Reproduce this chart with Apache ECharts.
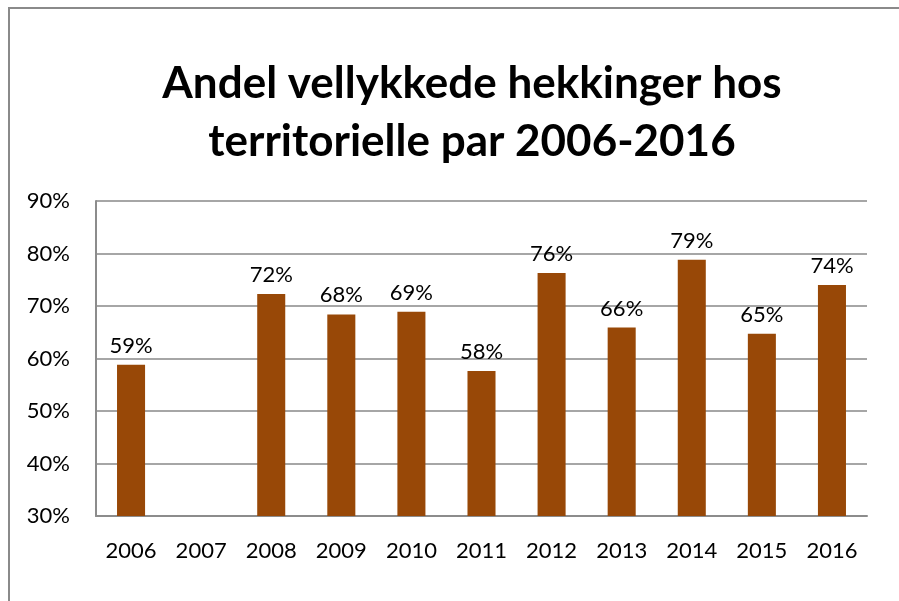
<!DOCTYPE html>
<html>
<head>
<meta charset="utf-8">
<script src="https://cdn.jsdelivr.net/npm/echarts@6/dist/echarts.min.js"></script>
<style>
  html, body { margin: 0; padding: 0; background: #fff; }
  #chart { width: 899px; height: 601px; }
</style>
</head>
<body>
<div id="chart"></div>
<script>
// år og andel vellykkede hekkinger (%)
const years = ['2006', '2007', '2008', '2009', '2010', '2011', '2012', '2013', '2014', '2015', '2016']
const values = [58.8, 29.7, 72.3, 68.4, 68.9, 57.6, 76.3, 65.9, 78.8, 64.7, 74.0]
const yTicks = [30, 40, 50, 60, 70, 80, 90]

const chart = echarts.init(document.getElementById('chart'))
const font = 'Lato, "Open Sans", sans-serif'

const option = {
  animation: false,
  textStyle: { fontFamily: font },
  title: {
    text: 'Andel vellykkede hekkinger hos\nterritorielle par 2006-2016',
    left: 467,
    top: 50,
    textAlign: 'center',
    textStyle: {
      fontFamily: font,
      fontWeight: 'bold',
      fontSize: 44,
      lineHeight: 58,
      color: '#000'
    }
  },
  // ytre ramme rundt diagrammet
  graphic: [{
    type: 'rect',
    shape: { x: 9, y: 8, width: 1000, height: 800 },
    style: { fill: null, stroke: '#8a8a8a', lineWidth: 2 },
    silent: true
  }],
  grid: {
    left: 96,
    right: 32,
    top: 201,
    bottom: 85,
    containLabel: false
  },
  xAxis: {
    type: 'category',
    data: years,
    axisTick: { show: false },
    axisLine: { lineStyle: { color: '#8c8c8c', width: 2 } },
    axisLabel: { color: '#000', fontSize: 22, margin: 24, fontFamily: font }
  },
  yAxis: {
    type: 'value',
    min: yTicks[0],
    max: yTicks[yTicks.length - 1],
    interval: 10,
    axisLine: { show: true, lineStyle: { color: '#8c8c8c', width: 2 } },
    axisTick: { show: false },
    splitLine: { lineStyle: { color: '#a6a6a6', width: 2 } },
    axisLabel: {
      color: '#000',
      fontSize: 22,
      margin: 26,
      fontFamily: font,
      formatter: v => v + '%'
    }
  },
  series: [{
    type: 'bar',
    data: values,
    barWidth: '40%',
    itemStyle: { color: '#984807' },
    label: {
      show: true,
      position: 'top',
      distance: 8,
      color: '#000',
      fontSize: 22,
      fontFamily: font,
      formatter: p => (p.value < yTicks[0] ? '' : Math.round(p.value) + '%')
    }
  }]
}

chart.setOption(option)
</script>
</body>
</html>
